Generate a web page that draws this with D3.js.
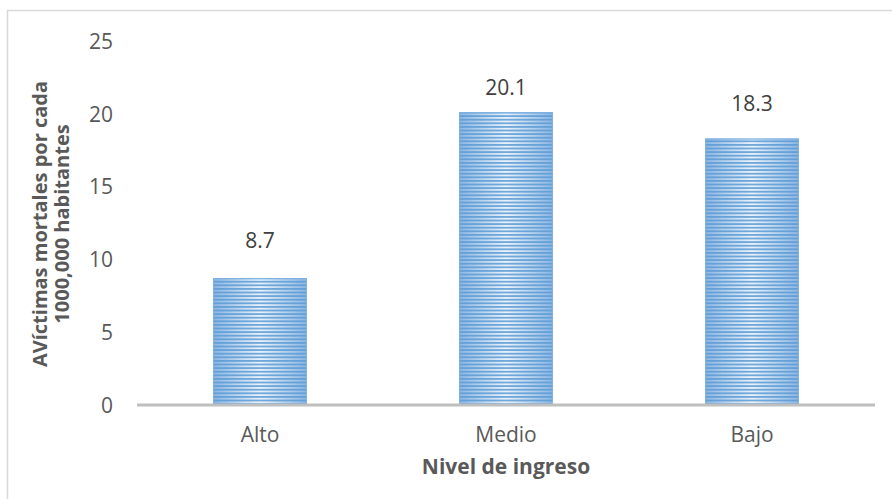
<!DOCTYPE html>
<html><head><meta charset="utf-8">
<script src="https://cdn.jsdelivr.net/npm/d3@7"></script>
<style>
html,body{margin:0;padding:0;background:#fff;}
text{font-family:"Open Sans","Liberation Sans",sans-serif;}
</style></head>
<body>
<script>
const categories = ["Alto","Medio","Bajo"];
const values = [8.7,20.1,18.3];
const valueLabels = ["8.7","20.1","18.3"];
const yTicks = [0,5,10,15,20,25];
const yTitle = ["AVíctimas mortales por cada","1000,000 habitantes"];
const xTitle = "Nivel de ingreso";

const W=892,H=499;
const svg=d3.select("body").append("svg").attr("width",W).attr("height",H);
const m={left:137,right:17,top:41,bottom:94};
const x=d3.scaleBand().domain(categories).range([m.left,W-m.right]).paddingInner(0.62).paddingOuter(0.31);
const y=d3.scaleLinear().domain([0,25]).range([H-m.bottom,m.top]);
const labelGap=[38,25,35]; // label placement above each bar, as in the original

svg.append("rect").attr("x",7.5).attr("y",10.5).attr("width",W).attr("height",H).attr("fill","none").attr("stroke","#d9d9d9").attr("stroke-width",1.5);

const defs=svg.append("defs");
const lg=defs.append("linearGradient").attr("id","hg").attr("x1","0").attr("x2","1").attr("y1","0").attr("y2","0");
lg.append("stop").attr("offset","0").attr("stop-color","#8cb6e2");
lg.append("stop").attr("offset","0.5").attr("stop-color","#eaf2fb");
lg.append("stop").attr("offset","1").attr("stop-color","#8cb6e2");
const pat=defs.append("pattern").attr("id","stripes").attr("patternUnits","userSpaceOnUse").attr("width",8).attr("height",3.6);
pat.append("rect").attr("x",0).attr("y",0).attr("width",8).attr("height",1.8).attr("fill","#5b9bd5").attr("opacity",0.85);

const yAxis=d3.axisLeft(y).tickValues(yTicks).tickSize(0).tickPadding(0);
const ya=svg.append("g").attr("transform",`translate(${m.left-24},0)`).call(yAxis);
ya.select(".domain").remove();
ya.selectAll("text").attr("font-size",21).attr("fill","#595959").attr("dy","0.35em");

const bars=svg.append("g").selectAll("g.bar").data(categories).join("g").attr("class","bar");
bars.append("rect").attr("x",d=>x(d)).attr("y",(d,i)=>y(values[i])).attr("width",x.bandwidth()).attr("height",(d,i)=>y(0)-y(values[i])).attr("fill","url(#hg)");
bars.append("rect").attr("x",d=>x(d)).attr("y",(d,i)=>y(values[i])).attr("width",x.bandwidth()).attr("height",(d,i)=>y(0)-y(values[i])).attr("fill","url(#stripes)");
bars.append("rect").attr("x",d=>x(d)+0.5).attr("y",(d,i)=>y(values[i])+0.5).attr("width",x.bandwidth()-1).attr("height",(d,i)=>y(0)-y(values[i])-1).attr("fill","none").attr("stroke","#7aaee0").attr("stroke-width",1);

bars.append("text").attr("x",d=>x(d)+x.bandwidth()/2).attr("y",(d,i)=>y(values[i])-labelGap[i]).attr("dy","0.35em")
 .attr("text-anchor","middle").attr("font-size",21).attr("fill","#404040").text((d,i)=>valueLabels[i]);

const xAxis=d3.axisBottom(x).tickSize(0).tickPadding(22);
const xa=svg.append("g").attr("transform",`translate(0,${y(0)})`).call(xAxis);
xa.select(".domain").attr("stroke","#bfbfbf").attr("stroke-width",3).attr("d",`M${m.left},0H${W-m.right}`);
xa.selectAll("text").attr("font-size",21).attr("fill","#595959");

svg.append("text").attr("x",(m.left+W-m.right)/2).attr("y",467).attr("dy","0.35em").attr("text-anchor","middle")
 .attr("font-size",21).attr("font-weight","bold").attr("fill","#595959").text(xTitle);

const yt=svg.append("text").attr("transform","translate(40,224) rotate(-90)").attr("text-anchor","middle")
 .attr("font-size",20).attr("font-weight","bold").attr("fill","#595959");
yt.selectAll("tspan").data(yTitle).join("tspan").attr("x",0).attr("dy",(d,i)=>i===0?"0.35em":"1.1em").text(d=>d);
</script>
</body></html>
